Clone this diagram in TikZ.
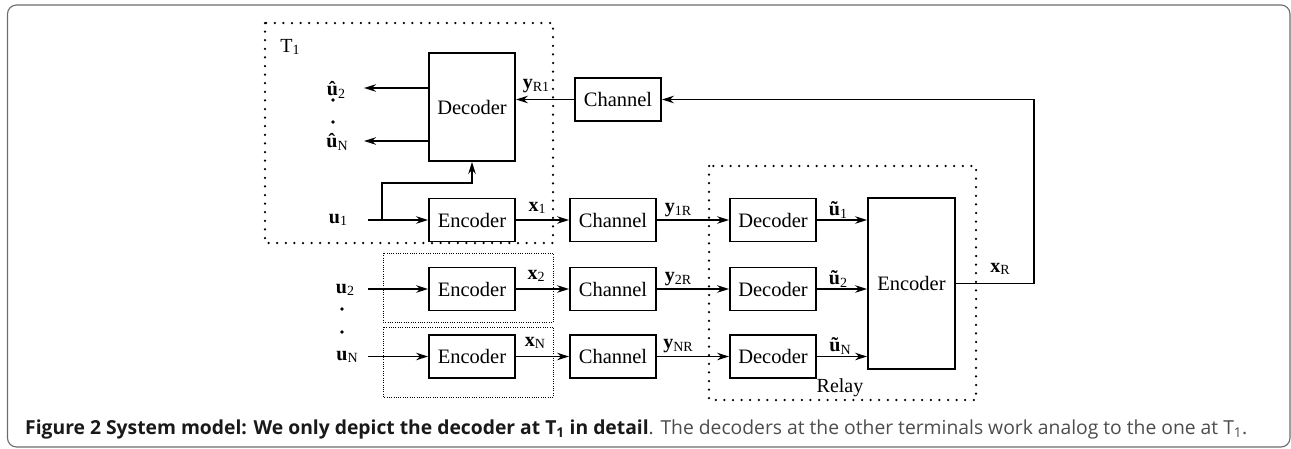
\documentclass[tikz,border=0pt]{standalone}
\usepackage{fontspec}
\setmainfont{Liberation Serif}
\newfontfamily\capfont{Open Sans}
\usetikzlibrary{arrows.meta,calc}
\newcommand{\lbl}[2]{\textbf{#1}\raisebox{-0.3ex}{\fontsize{14}{14}\selectfont #2}}
\begin{document}
\begin{tikzpicture}[x=1pt,y=-1pt,
  box/.style={draw,line width=1.9pt,minimum width=86pt,minimum height=43pt,inner sep=0pt,font=\fontsize{20.5}{22}\selectfont},
  conn/.style={line width=1.6pt,-{Stealth[length=12pt,width=7.5pt]}},
  heavydot/.style={line width=2.5pt,line cap=round,dash pattern=on 0pt off 8.6pt},
  thindot/.style={line width=0.7pt,dash pattern=on 0.7pt off 1.6pt},
  lab/.style={font=\fontsize{20}{22}\selectfont,inner sep=0pt}]
\useasboundingbox (0,0) rectangle (1291,448);
% outer frame
\draw[gray!85!black,line width=1.1pt,rounded corners=9pt] (7.5,5) rectangle (1290,447);

% dotted groups
\draw[heavydot] (265,23) rectangle (553,243);
\draw[heavydot] (709,166) rectangle (976,400);
\draw[thindot] (383,253) rectangle (553,322);
\draw[thindot] (383,327) rectangle (553,397);

% boxes
\node[box,minimum height=108pt] (dec1) at (472,107) {Decoder};
\node[box] (enc1) at (472,220) {Encoder};
\node[box] (enc2) at (472,289) {Encoder};
\node[box] (encN) at (472,356.5) {Encoder};
\node[box] (chT) at (618,99.5) {Channel};
\node[box] (ch1) at (613,220) {Channel};
\node[box] (ch2) at (613,289) {Channel};
\node[box] (chN) at (613,356.5) {Channel};
\node[box] (rd1) at (773,220) {Decoder};
\node[box] (rd2) at (773,289) {Decoder};
\node[box] (rdN) at (773,356.5) {Decoder};
\node[box,minimum width=87pt,minimum height=171pt] (renc) at (911.5,283.5) {Encoder};

% labels
\node[lab] (t1) at (290,47) {T\raisebox{-0.3ex}{\fontsize{14}{14}\selectfont 1}};
\node[lab] (uh2) at (336,90) {\lbl{\^u}{2}};
\node[lab] (uhN) at (337,142) {\lbl{\^u}{N}};
\node[lab] (u1) at (338,220) {\lbl{u}{1}};
\node[lab] (u2) at (345,290) {\lbl{u}{2}};
\node[lab] (uN) at (347,357) {\lbl{u}{N}};
\node[lab] (yR1) at (536,86) {\lbl{y}{R1}};
\node[lab] (x1) at (537,208) {\lbl{x}{1}};
\node[lab] (x2) at (536,276) {\lbl{x}{2}};
\node[lab] (xN) at (535,343) {\lbl{x}{N}};
\node[lab] (y1R) at (678,210) {\lbl{y}{1R}};
\node[lab] (y2R) at (678,279) {\lbl{y}{2R}};
\node[lab] (yNR) at (678,346) {\lbl{y}{NR}};
\node[lab] (ut1) at (838,210) {\lbl{\~u}{1}};
\node[lab] (ut2) at (838,279) {\lbl{\~u}{2}};
\node[lab] (utN) at (840,346) {\lbl{\~u}{N}};
\node[lab] (xR) at (1000,269) {\lbl{x}{R}};
\node[lab] (relay) at (840,388) {Relay};

% vertical dots
\fill (333,100) circle (1.8pt) (333,122) circle (1.8pt);
\fill (342,309) circle (1.8pt) (342,332) circle (1.8pt);

% coordinates
\coordinate (u1s) at (368,220);
\coordinate (u2s) at (368,289);
\coordinate (uNs) at (368,356.5);
\coordinate (br) at (382,220);
\coordinate (uh2e) at (364,88);
\coordinate (uhNe) at (364,141);
\coordinate (fb) at (1034,283.5);

% connectors
\draw[conn] (u1s) -- (enc1.west);
\draw[conn] (u2s) -- (enc2.west);
\draw[conn] (uNs) -- (encN.west);
\draw[conn] (br) -- ++(0,-37) -| (dec1.south);
\draw[conn] (dec1.west |- uh2e) -- (uh2e);
\draw[conn] (dec1.west |- uhNe) -- (uhNe);
\draw[conn] (chT.west) -- (chT.west -| dec1.east);
\draw[conn] (enc1) -- (ch1);
\draw[conn] (enc2) -- (ch2);
\draw[conn] (encN) -- (chN);
\draw[conn] (ch1) -- (rd1);
\draw[conn] (ch2) -- (rd2);
\draw[conn] (chN) -- (rdN);
\draw[conn] (rd1.east) -- (rd1.east -| renc.west);
\draw[conn] (rd2.east) -- (rd2.east -| renc.west);
\draw[conn] (rdN.east) -- (rdN.east -| renc.west);
\draw[conn] (renc.east) -- (fb) -- (fb |- chT.east) -- (chT.east);

% caption
\node[anchor=base west,inner sep=0pt,font=\capfont\fontsize{19.3}{21}\selectfont] (cap) at (25,434)
  {\textcolor{black!90}{\textbf{Figure 2 System model: We only depict the decoder at T\textsubscript{1} in detail}}\textcolor{black!70}{. The decoders at the other terminals work analog to the one at T\textsubscript{1}.}};
\end{tikzpicture}
\end{document}
